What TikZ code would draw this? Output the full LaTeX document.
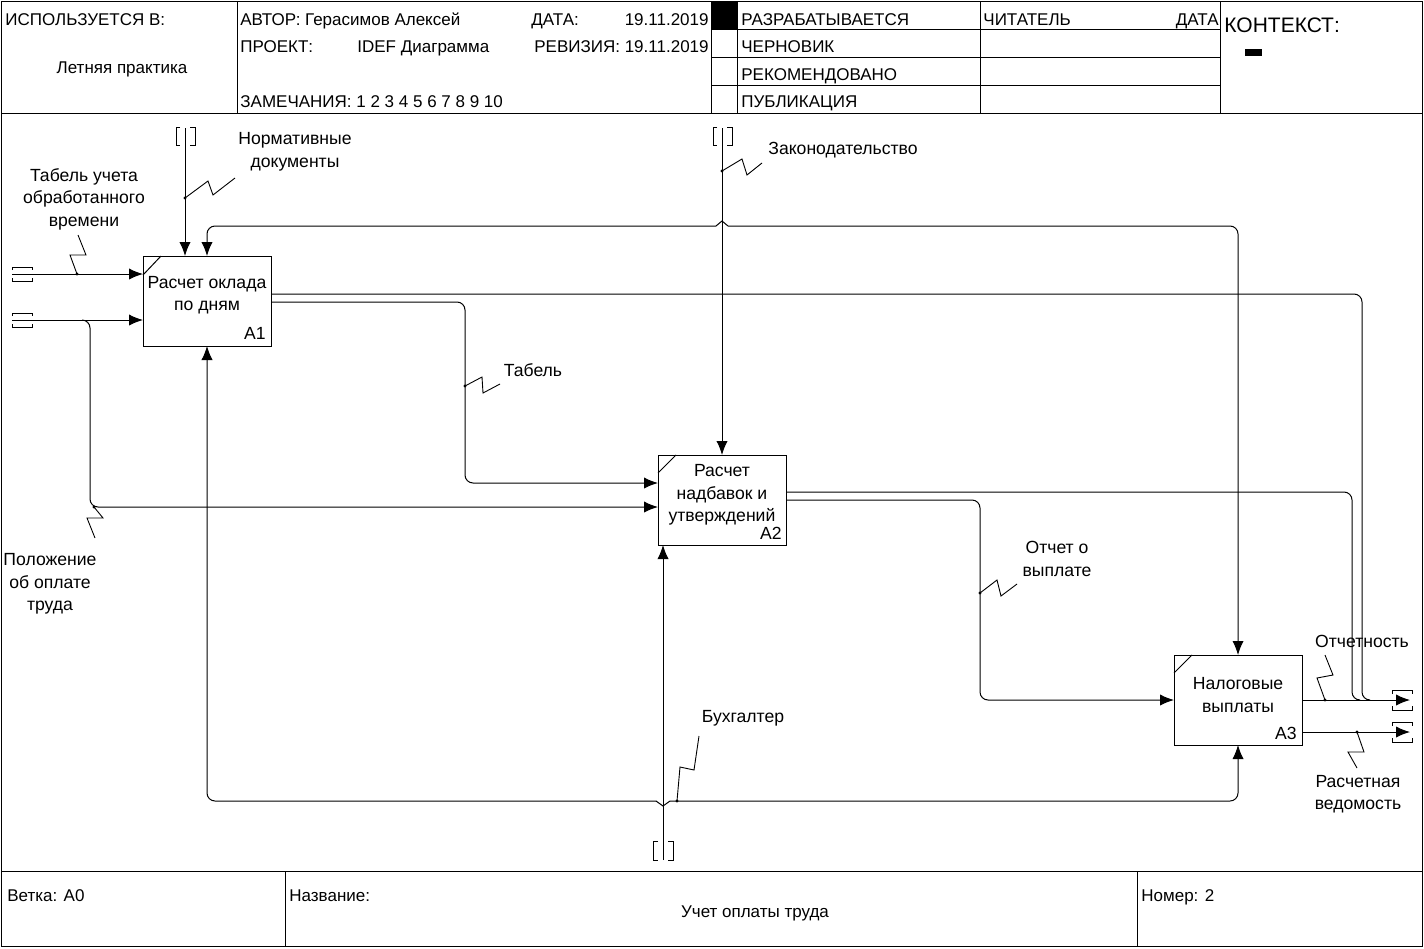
\documentclass[tikz,border=0pt]{standalone}
\usepackage{fontspec}
\setmainfont{Liberation Sans}
\usetikzlibrary{arrows.meta,calc}
\begin{document}
\begin{tikzpicture}[x=0.5pt,y=-0.5pt,
  font=\fontsize{8.8}{11.25}\selectfont,
  ln/.style={line width=0.5pt},
  arr/.style={line width=0.5pt,-{Latex[length=7pt,width=5.6pt]}},
  rc/.style={rounded corners=4pt},
  box/.style={draw,line width=0.5pt,minimum width=64pt,minimum height=45pt,inner sep=0pt},
  lbl/.style={inner sep=0pt,align=center},
  tl/.style={anchor=base west,inner sep=0pt,font=\fontsize{8.5}{10}\selectfont},
  tr/.style={anchor=base east,inner sep=0pt,font=\fontsize{8.5}{10}\selectfont},
  bn/.style={anchor=base east,inner sep=0pt},
  sq/.style={line width=0.45pt},
  dot/.style={circle,fill,inner sep=0pt,minimum size=1.6pt},
  tun/.style={line width=0.5pt},
]
\useasboundingbox[fill=white] (0,0) rectangle (1424,948);
% ---------- frame ----------
\draw[ln] (1,1) rectangle (1422,946);
\draw[ln] (1,113) -- (1422,113);
\draw[ln] (1,871) -- (1422,871);
% header grid
\foreach \xx in {237,711,737,980,1220} \draw[ln] (\xx,1) -- (\xx,113);
\foreach \yy in {29,57,85} \draw[ln] (711,\yy) -- (1220,\yy);
\fill (711,1) rectangle (737,29);
\fill (1245,49) rectangle (1262,56);
% footer grid
\draw[ln] (285,871) -- (285,946);
\draw[ln] (1137,871) -- (1137,946);
% header texts
\node[tl] (h1) at (5,25) {ИСПОЛЬЗУЕТСЯ В:};
\node[inner sep=0pt,anchor=base,font=\fontsize{8.5}{10}\selectfont] (h2) at (122,73) {Летняя практика};
\node[tl] (h3) at (240,25) {АВТОР: Герасимов Алексей};
\node[tl] (h4) at (531,25) {ДАТА:};
\node[tr] (h5) at (709,25) {19.11.2019};
\node[tl] (h6) at (240,52) {ПРОЕКТ:};
\node[tl] (h7) at (357,52) {IDEF Диаграмма};
\node[tr] (h8) at (709,52) {РЕВИЗИЯ: 19.11.2019};
\node[tl] (h9) at (240,107) {ЗАМЕЧАНИЯ: 1 2 3 4 5 6 7 8 9 10};
\node[tl] (h10) at (741,25) {РАЗРАБАТЫВАЕТСЯ};
\node[tl] (h11) at (741,52) {ЧЕРНОВИК};
\node[tl] (h12) at (741,80) {РЕКОМЕНДОВАНО};
\node[tl] (h13) at (741,107) {ПУБЛИКАЦИЯ};
\node[tl] (h14) at (983,25) {ЧИТАТЕЛЬ};
\node[tr] (h15) at (1219,25) {ДАТА};
\node[tl,font=\fontsize{10.5}{12}\selectfont] (h16) at (1224,32) {КОНТЕКСТ:};
% footer texts
\node[tl] (f1) at (7,901) {Ветка: A0};
\node[tl] (f2) at (289,901) {Название:};
\node[tl] (f3) at (1141,901) {Номер: 2};
\node[inner sep=0pt,anchor=base,font=\fontsize{8.5}{10}\selectfont] (f4) at (755,917) {Учет оплаты труда};
% ---------- boxes ----------
\node[box] (A1) at (207,301) {};
\node[box] (A2) at (722,500) {};
\node[box] (A3) at (1238,700) {};
\node[lbl] (A1t) at (207,295) {Расчет оклада\\по дням};
\node[lbl] (A2t) at (722,495) {Расчет\\надбавок и\\утверждений};
\node[lbl] (A3t) at (1238,695) {Налоговые\\выплаты};
\node[bn] (A1n) at (266,339) {A1};
\node[bn] (A2n) at (782,539) {A2};
\node[bn] (A3n) at (1297,739) {A3};
\draw[ln] (143,275) -- (161,256);
\draw[ln] (658,473) -- (676,455);
\draw[ln] (1174,673) -- (1192,655);
% ---------- ports / coordinates ----------
\coordinate (tL1) at (12,274);
\coordinate (tL2) at (12,320);
\coordinate (tT1) at (185,128);
\coordinate (tT2) at (722,128);
\coordinate (tB) at (663,860);
\coordinate (tR1) at (1410,700);
\coordinate (tR2) at (1410,732);
\coordinate (A1i1) at (143,274);
\coordinate (A1i2) at (143,320);
\coordinate (A1c1) at (185,256);
\coordinate (A1c2) at (207,256);
\coordinate (A1m) at (207,346);
\coordinate (A1o1) at (271,294);
\coordinate (A1o2) at (271,302);
\coordinate (A2i1) at (658,483);
\coordinate (A2i2) at (658,507);
\coordinate (A2c) at (722,455);
\coordinate (A2m) at (663,545);
\coordinate (A2o1) at (786,492);
\coordinate (A2o2) at (786,500);
\coordinate (A3i) at (1174,700);
\coordinate (A3c) at (1238,655);
\coordinate (A3m) at (1238,745);
\coordinate (A3o1) at (1302,700);
\coordinate (A3o2) at (1302,732);
\coordinate (jL) at (716,226);
\coordinate (jR) at (728,226);
\coordinate (jT) at (722,221);
\coordinate (kL) at (656,801);
\coordinate (kR) at (670,801);
\coordinate (kB) at (663,806);
\coordinate (bL) at (82,320);
% ---------- tunnels ----------
\foreach \yy in {274,320}{
  \draw[tun] (12,\yy-4) -- (12,\yy-7) -- (32,\yy-7) -- (32,\yy-4);
  \draw[tun] (12,\yy+4) -- (12,\yy+7) -- (32,\yy+7) -- (32,\yy+4);
}
\foreach \yy in {700,732}{
  \draw[tun] (1392,\yy-6) -- (1392,\yy-10) -- (1412,\yy-10) -- (1412,\yy-6);
  \draw[tun] (1392,\yy+6) -- (1392,\yy+10) -- (1412,\yy+10) -- (1412,\yy+6);
}
\foreach \xx in {185,722}{
  \draw[tun] (\xx-5,127) -- (\xx-9,127) -- (\xx-9,145) -- (\xx-5,145);
  \draw[tun] (\xx+5,127) -- (\xx+10,127) -- (\xx+10,145) -- (\xx+5,145);
}
\draw[tun] (658,841) -- (653,841) -- (653,860) -- (658,860);
\draw[tun] (668,841) -- (673,841) -- (673,860) -- (668,860);
% ---------- connectors ----------
\draw[arr] (tL1) -- (A1i1);
\draw[arr] (tL2) -- (A1i2);
\draw[arr,rc] (bL) -| (90,507) -- (A2i2);
\draw[arr] (tT1) -- (A1c1);
\draw[arr] (tT2) -- (A2c);
\draw[ln] (jL) -- (jT) -- (jR);
\draw[arr,rc] (jL) -| (A1c2);
\draw[arr,rc] (jR) -| (A3c);
\draw[ln,rc] (A1o1) -| (1362,700) -- (1369,700);
\draw[arr,rc] (A1o2) -| (465,483) -- (A2i1);
\draw[ln,rc] (A2o1) -| (1352,700) -- (1359,700);
\draw[arr,rc] (A2o2) -| (980,700) -- (A3i);
\draw[arr] (A3o1) -- (tR1);
\draw[arr] (A3o2) -- (tR2);
\draw[arr] (tB) -- (A2m);
\draw[ln] (kL) -- (kB) -- (kR);
\draw[arr,rc] (kL) -| (A1m);
\draw[arr,rc] (kR) -| (A3m);
% ---------- squiggles ----------
\draw[sq] (77,274) -- (70,255) -- (86,255) -- (78,235);
\node[dot] (d1) at (77,274) {};
\draw[sq] (94,507) -- (103,518) -- (87,518) -- (95,538);
\node[dot] (d2) at (94,507) {};
\draw[sq] (185,198) -- (208,181) -- (213,195) -- (235,178);
\node[dot] (d3) at (185,198) {};
\draw[sq] (722,171) -- (742,159) -- (747,175) -- (762,163);
\node[dot] (d4) at (722,171) {};
\draw[sq] (465,386) -- (482,377) -- (483,393) -- (500,384);
\node[dot] (d5) at (465,386) {};
\draw[sq] (980,593) -- (997,580) -- (1001,596) -- (1017,584);
\node[dot] (d6) at (980,593) {};
\draw[sq] (1325,700) -- (1317,678) -- (1333,675) -- (1325,655);
\node[dot] (d7) at (1325,700) {};
\draw[sq] (1357,732) -- (1364,752) -- (1348,752) -- (1357,768);
\node[dot] (d8) at (1357,732) {};
\draw[sq] (677,801) -- (680,767) -- (694,770) -- (699,736);
\node[dot] (d9) at (677,801) {};
% ---------- labels ----------
\node[lbl] (L1) at (84,199) {Табель учета\\обработанного\\времени};
\node[lbl] (L2) at (295,152) {Нормативные\\документы};
\node[lbl] (L3) at (843,150) {Законодательство};
\node[lbl] (L4) at (533,370) {Табель};
\node[lbl] (L5) at (50,584) {Положение\\об оплате\\труда};
\node[lbl] (L6) at (1057,559) {Отчет о\\выплате};
\node[lbl] (L7) at (1362,641) {Отчетность};
\node[lbl] (L8) at (1358,794) {Расчетная\\ведомость};
\node[lbl] (L9) at (743,718) {Бухгалтер};
\end{tikzpicture}
\end{document}
